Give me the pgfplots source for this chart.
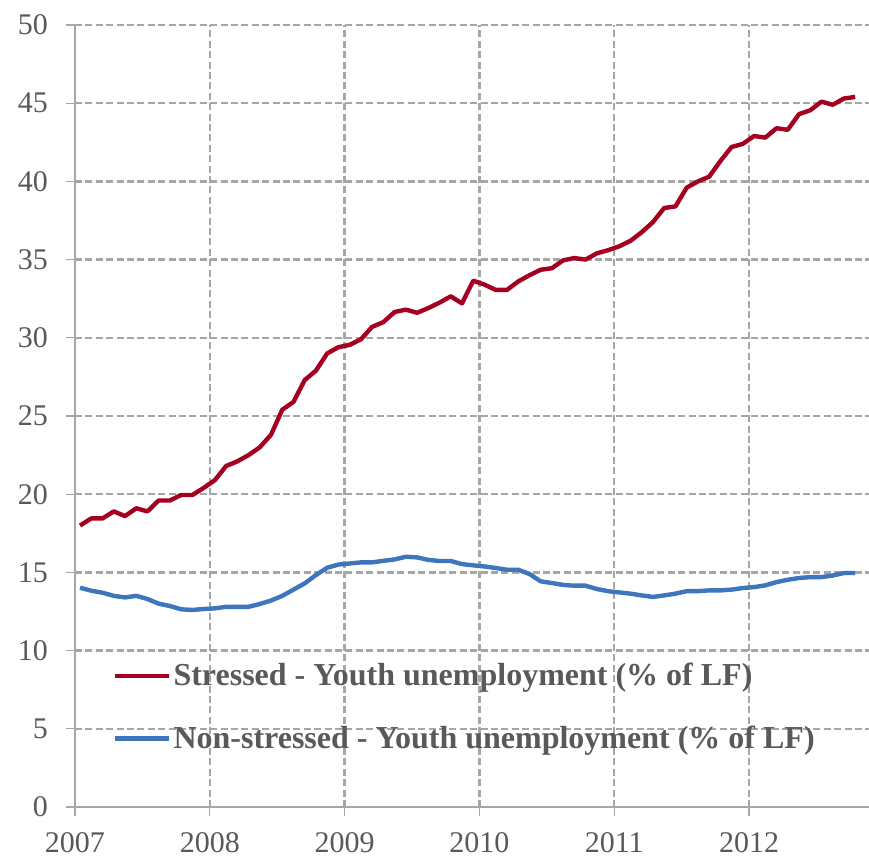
\documentclass[border=0pt]{standalone}
\usepackage{fontspec}
\setmainfont{Liberation Serif}
\usepackage{pgfplots}
\usepackage{pgfplotstable}
\pgfplotsset{compat=1.18}
\definecolor{sred}{HTML}{A50021}
\definecolor{nblue}{HTML}{3E75BD}
\definecolor{gridc}{HTML}{A6A6A6}
\definecolor{txt}{HTML}{595959}
\pgfplotstableread{
x red blue
2007.0375 18.00 14.02
2007.1208 18.45 13.83
2007.2042 18.45 13.70
2007.2875 18.90 13.50
2007.3708 18.60 13.40
2007.4542 19.10 13.50
2007.5375 18.90 13.30
2007.6208 19.60 13.00
2007.7042 19.60 12.85
2007.7875 19.95 12.64
2007.8708 19.95 12.60
2007.9542 20.40 12.66
2008.0375 20.90 12.70
2008.1208 21.80 12.80
2008.2042 22.10 12.80
2008.2875 22.50 12.80
2008.3708 23.00 12.98
2008.4542 23.80 13.20
2008.5375 25.40 13.50
2008.6208 25.90 13.90
2008.7042 27.30 14.30
2008.7875 27.90 14.83
2008.8708 29.00 15.30
2008.9542 29.40 15.50
2009.0375 29.55 15.57
2009.1208 29.90 15.64
2009.2042 30.70 15.64
2009.2875 31.00 15.74
2009.3708 31.65 15.83
2009.4542 31.80 16.00
2009.5375 31.60 15.96
2009.6208 31.90 15.80
2009.7042 32.25 15.73
2009.7875 32.65 15.73
2009.8708 32.20 15.53
2009.9542 33.65 15.45
2010.0375 33.40 15.38
2010.1208 33.06 15.28
2010.2042 33.06 15.17
2010.2875 33.60 15.17
2010.3708 34.00 14.90
2010.4542 34.35 14.43
2010.5375 34.45 14.32
2010.6208 34.95 14.20
2010.7042 35.10 14.15
2010.7875 35.00 14.15
2010.8708 35.40 13.94
2010.9542 35.60 13.80
2011.0375 35.85 13.72
2011.1208 36.20 13.64
2011.2042 36.75 13.53
2011.2875 37.40 13.43
2011.3708 38.30 13.53
2011.4542 38.40 13.64
2011.5375 39.60 13.80
2011.6208 40.00 13.80
2011.7042 40.30 13.85
2011.7875 41.30 13.85
2011.8708 42.20 13.90
2011.9542 42.40 14.00
2012.0375 42.90 14.06
2012.1208 42.80 14.17
2012.2042 43.40 14.38
2012.2875 43.30 14.53
2012.3708 44.30 14.64
2012.4542 44.55 14.70
2012.5375 45.10 14.70
2012.6208 44.90 14.80
2012.7042 45.30 14.96
2012.7875 45.40 14.96
}\data
\begin{document}
\begin{tikzpicture}
\useasboundingbox (-37.5pt,-25.5pt) rectangle (397pt,403.5pt);
\begin{axis}[
  scale only axis, width=397pt, height=391pt,
  xmin=2007, xmax=2012.89, ymin=0, ymax=50,
  xtick={2007,2008,2009,2010,2011,2012}, ytick={0,5,...,50},
  axis x line*=bottom, axis y line*=left,
  tick align=outside, major tick length=4.5pt,
  tick style={gridc, line width=0.6pt},
  axis line style={gridc, line width=0.7pt},
  grid=major,
  major grid style={gridc, line width=1.2pt, dash pattern=on 3.5pt off 1.7pt},
  ticklabel style={font=\fontsize{15}{18}\selectfont, text=txt},
  /pgf/number format/assume math mode=true,
  x tick label style={/pgf/number format/.cd, 1000 sep={}, /tikz/.cd, yshift=-4.5pt},
  y tick label style={xshift=-5.5pt},
  scaled ticks=false,
  legend cell align=left,
  legend image code/.code={\draw[#1, line width=2.2pt] (0pt,0pt) -- (27pt,0pt);},
  legend style={draw=none, fill=none, at={(axis description cs:0.0475,0.0706)}, anchor=south west,
    font=\fontsize{16}{19}\selectfont\bfseries, text=txt, row sep=18.5pt, inner sep=0pt,
    nodes={inner xsep=1pt, inner ysep=0pt}},
]
\addplot[sred, line width=2.2pt, line join=round] table[x=x, y=red] {\data};
\addlegendentry{Stressed - Youth unemployment (\% of LF)}
\addplot[nblue, line width=2.2pt, line join=round] table[x=x, y=blue] {\data};
\addlegendentry{Non-stressed - Youth unemployment (\% of LF)}
\end{axis}
\end{tikzpicture}
\end{document}
